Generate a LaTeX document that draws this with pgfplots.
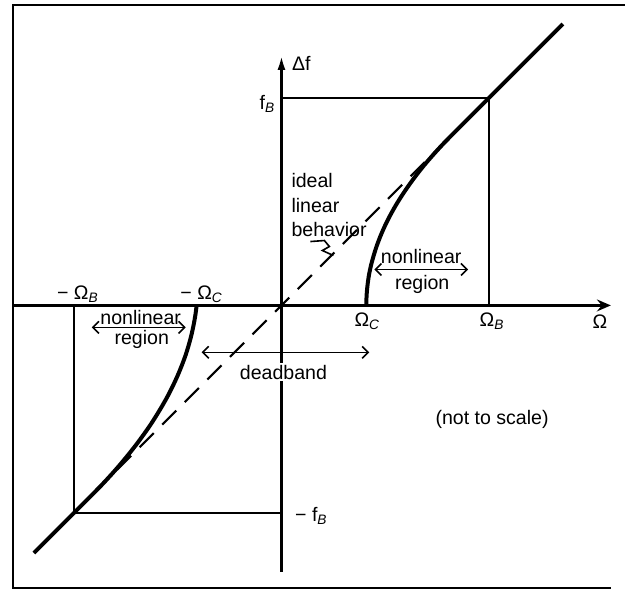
\documentclass[border=0pt]{standalone}
\usepackage{fontspec}
\setmainfont{Liberation Sans}
\usepackage{pgfplots}
\pgfplotsset{compat=1.18}
\usetikzlibrary{arrows.meta}
\newcommand\sub[1]{\textsubscript{\itshape #1}}
\begin{document}
\begin{tikzpicture}[font=\fontsize{9.8}{11}\selectfont]
\begin{axis}[
  x=0.5pt, y=0.5pt,
  xmin=-269, xmax=330, ymin=-267, ymax=250,
  axis lines=middle,
  xtick=\empty, ytick=\empty,
  clip=false,
  axis line style={line width=1.2pt},
  x axis line style={-{Stealth[length=7pt,width=6pt,inset=2.5pt]}},
  y axis line style={-{Latex[length=7pt,width=4pt]}},
]
% invisible bounding area and frame
\path (axis cs:-282,-285) rectangle (axis cs:344,306);
\draw[line width=1.2pt] (axis cs:344,301) -- (axis cs:-269,301) -- (axis cs:-269,-283) -- (axis cs:330,-283);

% ideal linear behaviour (dashed)
\addplot[black, line width=1.1pt, dash pattern=on 10pt off 6pt] coordinates {(-210,-210) (210,210)};

% helper lines
\addplot[black, line width=0.9pt] coordinates {(0,208) (208,208) (208,0)};
\addplot[black, line width=0.9pt] coordinates {(-208,0) (-208,-208) (0,-208)};

% actual response
\addplot[black, line width=2pt, smooth] coordinates {
 (85,0) (85.3,10) (86.2,20) (87.6,30) (89.7,40) (92.4,50) (95.6,60) (99.4,70)
 (103.8,80) (108.8,90) (114.4,100) (120.6,110) (127.4,120) (134.7,130)
 (142.6,140) (151.2,150) (160.3,160) (170,170) (180,180) (190,190) (208,208)};
\addplot[black, line width=2pt] coordinates {(208,208) (282,282)};
\addplot[black, line width=2pt, smooth] coordinates {
 (-85,0) (-86.3,-10) (-88.1,-20) (-90.3,-30) (-93.0,-40) (-96.1,-50) (-99.8,-60)
 (-103.9,-70) (-108.5,-80) (-113.5,-90) (-119.1,-100) (-125.1,-110) (-131.5,-120)
 (-138.5,-130) (-145.9,-140) (-153.8,-150) (-162.1,-160) (-170.9,-170)
 (-180.2,-180) (-190,-190) (-208,-208)};
\addplot[black, line width=2pt] coordinates {(-208,-208) (-248,-248)};

% labels
\node at (axis cs:20,242) {Δf};
\node at (axis cs:-14,202) {f\sub{B}};
\node at (axis cs:30,-211) {− f\sub{B}};
\node at (axis cs:86,-16) {Ω\sub{C}};
\node at (axis cs:211,-16) {Ω\sub{B}};
\node at (axis cs:319,-16) {Ω};
\node at (axis cs:-204,11) {− Ω\sub{B}};
\node at (axis cs:-80,11) {− Ω\sub{C}};

\node[anchor=base west] at (axis cs:3,118) {ideal};
\node[anchor=base west] at (axis cs:3,93) {linear};
\node[anchor=base west] at (axis cs:3,69) {behavior};
\draw[line width=0.8pt] (axis cs:29,64) -- (axis cs:43,65) -- (axis cs:48,59) -- (axis cs:41,55) -- (axis cs:52,50);

\node at (axis cs:140,49) {nonlinear};
\draw[line width=0.8pt, {Straight Barb[length=3pt]}-{Straight Barb[length=3pt]}] (axis cs:93,36) -- (axis cs:187,36);
\node at (axis cs:141,21) {region};

\node at (axis cs:-141,-12) {nonlinear};
\draw[line width=0.8pt, {Straight Barb[length=3pt]}-{Straight Barb[length=3pt]}] (axis cs:-190,-22) -- (axis cs:-96,-22);
\node at (axis cs:-140,-34) {region};

\draw[line width=0.8pt, {Straight Barb[length=3pt]}-{Straight Barb[length=3pt]}] (axis cs:-80,-47) -- (axis cs:88,-47);
\node[fill=white, inner sep=1pt] at (axis cs:2,-67) {deadband};

\node at (axis cs:211,-114) {(not to scale)};
\end{axis}
\end{tikzpicture}
\end{document}
